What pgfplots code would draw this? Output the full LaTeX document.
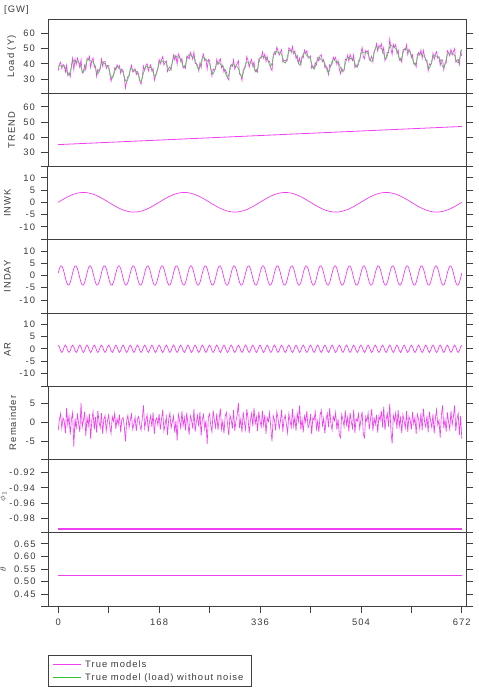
\documentclass[border=0pt]{standalone}
\usepackage{fontspec}
\setmainfont[LetterSpace=11]{Liberation Sans}
\usepackage{pgfplots}
\usepackage{pgfplotstable}
\pgfplotsset{compat=1.18}
\definecolor{txt}{HTML}{3C3C3C}
\definecolor{axc}{HTML}{404040}
\definecolor{mag}{HTML}{F040F0}
\definecolor{grn}{HTML}{50C850}
\definecolor{grnleg}{HTML}{30C030}
\newcommand\tf{\fontsize{9.4bp}{10.5bp}\selectfont}

\pgfplotstableread{
x tr wk dy ar rm
0 35.00 0 1.04 1.5 -2.1
2 35.04 0.30 2.83 0.75 0.8
4 35.07 0.60 3.86 -0.75 2.3
6 35.11 0.89 3.86 -1.5 -1.5
8 35.14 1.18 2.83 -0.75 1.2
10 35.18 1.46 1.04 0.75 0.4
12 35.21 1.74 -1.04 1.5 -2.8
14 35.25 2.00 -2.83 0.75 3.9
16 35.29 2.25 -3.86 -0.75 -0.6
18 35.32 2.49 -3.86 -1.5 1.7
20 35.36 2.72 -2.83 -0.75 -3.2
22 35.39 2.93 -1.04 0.75 0.9
24 35.43 3.13 1.04 1.5 2.6
26 35.46 3.30 2.83 0.75 -6.4
28 35.50 3.46 3.86 -0.75 1.1
30 35.54 3.60 3.86 -1.5 -1.8
32 35.57 3.72 2.83 -0.75 2.4
34 35.61 3.82 1.04 0.75 -0.3
36 35.64 3.90 -1.04 1.5 -2.5
38 35.68 3.96 -2.83 0.75 5.2
40 35.71 3.99 -3.86 -0.75 -1.2
42 35.75 4.00 -3.86 -1.5 0.6
44 35.79 3.99 -2.83 -0.75 2.9
46 35.82 3.96 -1.04 0.75 -3.6
48 35.86 3.90 1.04 1.5 1.4
50 35.89 3.82 2.83 0.75 -0.9
52 35.93 3.72 3.86 -0.75 2.2
54 35.96 3.60 3.86 -1.5 -4.3
56 36.00 3.46 2.83 -0.75 0.7
58 36.04 3.30 1.04 0.75 2.8
60 36.07 3.13 -1.04 1.5 -1.9
62 36.11 2.93 -2.83 0.75 1.5
64 36.14 2.72 -3.86 -0.75 -2.7
66 36.18 2.49 -3.86 -1.5 3.1
68 36.21 2.25 -2.83 -0.75 0.2
70 36.25 2.00 -1.04 0.75 -1.4
72 36.29 1.74 1.04 1.5 2.5
74 36.32 1.46 2.83 0.75 -3.0
76 36.36 1.18 3.86 -0.75 0.9
78 36.39 0.89 3.86 -1.5 1.8
80 36.43 0.60 2.83 -0.75 -2.2
82 36.46 0.30 1.04 0.75 0.4
84 36.50 0 -1.04 1.5 2.0
86 36.54 -0.30 -2.83 0.75 -1.1
88 36.57 -0.60 -3.86 -0.75 -2.9
90 36.61 -0.89 -3.86 -1.5 1.6
92 36.64 -1.18 -2.83 -0.75 0.3
94 36.68 -1.46 -1.04 0.75 2.4
96 36.71 -1.74 1.04 1.5 -1.7
98 36.75 -2.00 2.83 0.75 1.0
100 36.79 -2.25 3.86 -0.75 -0.5
102 36.82 -2.49 3.86 -1.5 2.1
104 36.86 -2.72 2.83 -0.75 -2.6
106 36.89 -2.93 1.04 0.75 0.8
108 36.93 -3.13 -1.04 1.5 1.3
110 36.96 -3.30 -2.83 0.75 -1.0
112 37.00 -3.46 -3.86 -0.75 -5.0
114 37.04 -3.60 -3.86 -1.5 0.5
116 37.07 -3.72 -2.83 -0.75 1.9
118 37.11 -3.82 -1.04 0.75 -1.3
120 37.14 -3.90 1.04 1.5 0.7
122 37.18 -3.96 2.83 0.75 2.2
124 37.21 -3.99 3.86 -0.75 -1.8
126 37.25 -4.00 3.86 -1.5 -0.4
128 37.29 -3.99 2.83 -0.75 1.4
130 37.32 -3.96 1.04 0.75 -2.3
132 37.36 -3.90 -1.04 1.5 0.9
134 37.39 -3.82 -2.83 0.75 1.6
136 37.43 -3.72 -3.86 -0.75 -0.8
138 37.46 -3.60 -3.86 -1.5 -2.0
140 37.50 -3.46 -2.83 -0.75 1.1
142 37.54 -3.30 -1.04 0.75 4.5
144 37.57 -3.13 1.04 1.5 -1.5
146 37.61 -2.93 2.83 0.75 0.6
148 37.64 -2.72 3.86 -0.75 2.0
150 37.68 -2.49 3.86 -1.5 -2.4
152 37.71 -2.25 2.83 -0.75 0.3
154 37.75 -2.00 1.04 0.75 1.8
156 37.79 -1.74 -1.04 1.5 -1.2
158 37.82 -1.46 -2.83 0.75 2.7
160 37.86 -1.18 -3.86 -0.75 -3.1
162 37.89 -0.89 -3.86 -1.5 0.5
164 37.93 -0.60 -2.83 -0.75 1.2
166 37.96 -0.30 -1.04 0.75 -0.7
168 38.00 0 1.04 1.5 2.3
170 38.04 0.30 2.83 0.75 -1.9
172 38.07 0.60 3.86 -0.75 0.8
174 38.11 0.89 3.86 -1.5 3.4
176 38.14 1.18 2.83 -0.75 -2.2
178 38.18 1.46 1.04 0.75 -0.6
180 38.21 1.74 -1.04 1.5 1.5
182 38.25 2.00 -2.83 0.75 -3.3
184 38.29 2.25 -3.86 -0.75 0.9
186 38.32 2.49 -3.86 -1.5 2.5
188 38.36 2.72 -2.83 -0.75 -1.4
190 38.39 2.93 -1.04 0.75 0.2
192 38.43 3.13 1.04 1.5 1.7
194 38.46 3.30 2.83 0.75 -2.7
196 38.50 3.46 3.86 -0.75 0.4
198 38.54 3.60 3.86 -1.5 -4.8
200 38.57 3.72 2.83 -0.75 2.2
202 38.61 3.82 1.04 0.75 0.6
204 38.64 3.90 -1.04 1.5 -1.5
206 38.68 3.96 -2.83 0.75 3.0
208 38.71 3.99 -3.86 -0.75 -0.9
210 38.75 4.00 -3.86 -1.5 1.3
212 38.79 3.99 -2.83 -0.75 -2.1
214 38.82 3.96 -1.04 0.75 2.6
216 38.86 3.90 1.04 1.5 -0.4
218 38.89 3.82 2.83 0.75 -3.2
220 38.93 3.72 3.86 -0.75 1.8
222 38.96 3.60 3.86 -1.5 0.7
224 39.00 3.46 2.83 -0.75 -1.6
226 39.04 3.30 1.04 0.75 3.6
228 39.07 3.13 -1.04 1.5 -2.4
230 39.11 2.93 -2.83 0.75 0.1
232 39.14 2.72 -3.86 -0.75 1.9
234 39.18 2.49 -3.86 -1.5 -1.1
236 39.21 2.25 -2.83 -0.75 2.8
238 39.25 2.00 -1.04 0.75 -3.5
240 39.29 1.74 1.04 1.5 0.9
242 39.32 1.46 2.83 0.75 2.1
244 39.36 1.18 3.86 -0.75 -1.7
246 39.39 0.89 3.86 -1.5 0.5
248 39.43 0.60 2.83 -0.75 -5.7
250 39.46 0.30 1.04 0.75 1.4
252 39.50 0 -1.04 1.5 2.3
254 39.54 -0.30 -2.83 0.75 -0.8
256 39.57 -0.60 -3.86 -0.75 -2.5
258 39.61 -0.89 -3.86 -1.5 3.2
260 39.64 -1.18 -2.83 -0.75 0.6
262 39.68 -1.46 -1.04 0.75 -1.3
264 39.71 -1.74 1.04 1.5 2.4
266 39.75 -2.00 2.83 0.75 -2.0
268 39.79 -2.25 3.86 -0.75 1.0
270 39.82 -2.49 3.86 -1.5 3.7
272 39.86 -2.72 2.83 -0.75 -1.8
274 39.89 -2.93 1.04 0.75 0.3
276 39.93 -3.13 -1.04 1.5 -2.9
278 39.96 -3.30 -2.83 0.75 1.6
280 40.00 -3.46 -3.86 -0.75 2.7
282 40.04 -3.60 -3.86 -1.5 -0.5
284 40.07 -3.72 -2.83 -0.75 -3.4
286 40.11 -3.82 -1.04 0.75 1.9
288 40.14 -3.90 1.04 1.5 0.8
290 40.18 -3.96 2.83 0.75 -1.6
292 40.21 -3.99 3.86 -0.75 3.3
294 40.25 -4.00 3.86 -1.5 -2.2
296 40.29 -3.99 2.83 -0.75 0.5
298 40.32 -3.96 1.04 0.75 2.0
300 40.36 -3.90 -1.04 1.5 5.2
302 40.39 -3.82 -2.83 0.75 -1.4
304 40.43 -3.72 -3.86 -0.75 0.9
306 40.46 -3.60 -3.86 -1.5 -2.6
308 40.50 -3.46 -2.83 -0.75 2.8
310 40.54 -3.30 -1.04 0.75 0.1
312 40.57 -3.13 1.04 1.5 -1.9
314 40.61 -2.93 2.83 0.75 3.5
316 40.64 -2.72 3.86 -0.75 1.2
318 40.68 -2.49 3.86 -1.5 -2.8
320 40.71 -2.25 2.83 -0.75 0.6
322 40.75 -2.00 1.04 0.75 2.4
324 40.79 -1.74 -1.04 1.5 -1.0
326 40.82 -1.46 -2.83 0.75 3.9
328 40.86 -1.18 -3.86 -0.75 -0.3
330 40.89 -0.89 -3.86 -1.5 1.5
332 40.93 -0.60 -2.83 -0.75 -2.3
334 40.96 -0.30 -1.04 0.75 2.9
336 41.00 0 1.04 1.5 0.4
338 41.04 0.30 2.83 0.75 -1.2
340 41.07 0.60 3.86 -0.75 3.1
342 41.11 0.89 3.86 -1.5 -0.7
344 41.14 1.18 2.83 -0.75 2.0
346 41.18 1.46 1.04 0.75 -3.0
348 41.21 1.74 -1.04 1.5 1.3
350 41.25 2.00 -2.83 0.75 0.2
352 41.29 2.25 -3.86 -0.75 2.6
354 41.32 2.49 -3.86 -1.5 -1.5
356 41.36 2.72 -2.83 -0.75 -5.0
358 41.39 2.93 -1.04 0.75 1.8
360 41.43 3.13 1.04 1.5 0.7
362 41.46 3.30 2.83 0.75 -2.1
364 41.50 3.46 3.86 -0.75 2.9
366 41.54 3.60 3.86 -1.5 1.1
368 41.57 3.72 2.83 -0.75 -1.6
370 41.61 3.82 1.04 0.75 0.4
372 41.64 3.90 -1.04 1.5 3.4
374 41.68 3.96 -2.83 0.75 -2.4
376 41.71 3.99 -3.86 -0.75 0.8
378 41.75 4.00 -3.86 -1.5 1.9
380 41.79 3.99 -2.83 -0.75 -0.6
382 41.82 3.96 -1.04 0.75 -2.8
384 41.86 3.90 1.04 1.5 2.3
386 41.89 3.82 2.83 0.75 0.5
388 41.93 3.72 3.86 -0.75 -1.3
390 41.96 3.60 3.86 -1.5 3.6
392 42.00 3.46 2.83 -0.75 -0.9
394 42.04 3.30 1.04 0.75 1.4
396 42.07 3.13 -1.04 1.5 -2.2
398 42.11 2.93 -2.83 0.75 2.5
400 42.14 2.72 -3.86 -0.75 0.3
402 42.18 2.49 -3.86 -1.5 4.5
404 42.21 2.25 -2.83 -0.75 -1.8
406 42.25 2.00 -1.04 0.75 0.9
408 42.29 1.74 1.04 1.5 -2.6
410 42.32 1.46 2.83 0.75 1.7
412 42.36 1.18 3.86 -0.75 0.2
414 42.39 0.89 3.86 -1.5 3.0
416 42.43 0.60 2.83 -0.75 -1.4
418 42.46 0.30 1.04 0.75 -0.5
420 42.50 0 -1.04 1.5 2.2
422 42.54 -0.30 -2.83 0.75 -3.1
424 42.57 -0.60 -3.86 -0.75 1.3
426 42.61 -0.89 -3.86 -1.5 0.6
428 42.64 -1.18 -2.83 -0.75 2.8
430 42.68 -1.46 -1.04 0.75 -1.7
432 42.71 -1.74 1.04 1.5 0.4
434 42.75 -2.00 2.83 0.75 -2.5
436 42.79 -2.25 3.86 -0.75 1.9
438 42.82 -2.49 3.86 -1.5 3.3
440 42.86 -2.72 2.83 -0.75 -0.8
442 42.89 -2.93 1.04 0.75 1.1
444 42.93 -3.13 -1.04 1.5 -2.9
446 42.96 -3.30 -2.83 0.75 0.7
448 43.00 -3.46 -3.86 -0.75 2.4
450 43.04 -3.60 -3.86 -1.5 -1.2
452 43.07 -3.72 -2.83 -0.75 3.8
454 43.11 -3.82 -1.04 0.75 -0.3
456 43.14 -3.90 1.04 1.5 -2.0
458 43.18 -3.96 2.83 0.75 1.6
460 43.21 -3.99 3.86 -0.75 0.5
462 43.25 -4.00 3.86 -1.5 2.7
464 43.29 -3.99 2.83 -0.75 -1.9
466 43.32 -3.96 1.04 0.75 0.9
468 43.36 -3.90 -1.04 1.5 -3.3
470 43.39 -3.82 -2.83 0.75 -4.0
472 43.43 -3.72 -3.86 -0.75 2.1
474 43.46 -3.60 -3.86 -1.5 0.8
476 43.50 -3.46 -2.83 -0.75 -1.1
478 43.54 -3.30 -1.04 0.75 3.2
480 43.57 -3.13 1.04 1.5 -0.6
482 43.61 -2.93 2.83 0.75 1.4
484 43.64 -2.72 3.86 -0.75 -2.4
486 43.68 -2.49 3.86 -1.5 2.6
488 43.71 -2.25 2.83 -0.75 0.2
490 43.75 -2.00 1.04 0.75 -1.5
492 43.79 -1.74 -1.04 1.5 3.4
494 43.82 -1.46 -2.83 0.75 -2.8
496 43.86 -1.18 -3.86 -0.75 1.0
498 43.89 -0.89 -3.86 -1.5 0.4
500 43.93 -0.60 -2.83 -0.75 2.3
502 43.96 -0.30 -1.04 0.75 -1.6
504 44.00 0 1.04 1.5 0.7
506 44.04 0.30 2.83 0.75 2.9
508 44.07 0.60 3.86 -0.75 -3.2
510 44.11 0.89 3.86 -1.5 -4.0
512 44.14 1.18 2.83 -0.75 1.5
514 44.18 1.46 1.04 0.75 0.3
516 44.21 1.74 -1.04 1.5 2.5
518 44.25 2.00 -2.83 0.75 -1.8
520 44.29 2.25 -3.86 -0.75 0.9
522 44.32 2.49 -3.86 -1.5 3.6
524 44.36 2.72 -2.83 -0.75 -2.2
526 44.39 2.93 -1.04 0.75 1.2
528 44.43 3.13 1.04 1.5 -0.5
530 44.46 3.30 2.83 0.75 2.0
532 44.50 3.46 3.86 -0.75 -2.7
534 44.54 3.60 3.86 -1.5 1.7
536 44.57 3.72 2.83 -0.75 0.6
538 44.61 3.82 1.04 0.75 3.1
540 44.64 3.90 -1.04 1.5 -1.3
542 44.68 3.96 -2.83 0.75 4.2
544 44.71 3.99 -3.86 -0.75 -2.0
546 44.75 4.00 -3.86 -1.5 0.8
548 44.79 3.99 -2.83 -0.75 2.4
550 44.82 3.96 -1.04 0.75 -1.1
552 44.86 3.90 1.04 1.5 5.0
554 44.89 3.82 2.83 0.75 -2.3
556 44.93 3.72 3.86 -0.75 -5.6
558 44.96 3.60 3.86 -1.5 1.9
560 45.00 3.46 2.83 -0.75 0.4
562 45.04 3.30 1.04 0.75 2.6
564 45.07 3.13 -1.04 1.5 -1.7
566 45.11 2.93 -2.83 0.75 3.3
568 45.14 2.72 -3.86 -0.75 -0.9
570 45.18 2.49 -3.86 -1.5 1.2
572 45.21 2.25 -2.83 -0.75 -2.8
574 45.25 2.00 -1.04 0.75 2.1
576 45.29 1.74 1.04 1.5 0.3
578 45.32 1.46 2.83 0.75 -1.4
580 45.36 1.18 3.86 -0.75 3.0
582 45.39 0.89 3.86 -1.5 -2.5
584 45.43 0.60 2.83 -0.75 1.6
586 45.46 0.30 1.04 0.75 0.7
588 45.50 0 -1.04 1.5 -1.9
590 45.54 -0.30 -2.83 0.75 2.8
592 45.57 -0.60 -3.86 -0.75 -0.4
594 45.61 -0.89 -3.86 -1.5 1.3
596 45.64 -1.18 -2.83 -0.75 -3.0
598 45.68 -1.46 -1.04 0.75 2.2
600 45.71 -1.74 1.04 1.5 0.9
602 45.75 -2.00 2.83 0.75 -1.6
604 45.79 -2.25 3.86 -0.75 2.5
606 45.82 -2.49 3.86 -1.5 -2.1
608 45.86 -2.72 2.83 -0.75 3.7
610 45.89 -2.93 1.04 0.75 0.2
612 45.93 -3.13 -1.04 1.5 -1.2
614 45.96 -3.30 -2.83 0.75 1.8
616 46.00 -3.46 -3.86 -0.75 -2.6
618 46.04 -3.60 -3.86 -1.5 2.9
620 46.07 -3.72 -2.83 -0.75 0.5
622 46.11 -3.82 -1.04 0.75 -1.3
624 46.14 -3.90 1.04 1.5 2.2
626 46.18 -3.96 2.83 0.75 -2.9
628 46.21 -3.99 3.86 -0.75 1.1
630 46.25 -4.00 3.86 -1.5 3.4
632 46.29 -3.99 2.83 -0.75 -0.7
634 46.32 -3.96 1.04 0.75 0.6
636 46.36 -3.90 -1.04 1.5 -4.0
638 46.39 -3.82 -2.83 0.75 2.0
640 46.43 -3.72 -3.86 -0.75 4.5
642 46.46 -3.60 -3.86 -1.5 -1.5
644 46.50 -3.46 -2.83 -0.75 0.8
646 46.54 -3.30 -1.04 0.75 -2.4
648 46.57 -3.13 1.04 1.5 2.7
650 46.61 -2.93 2.83 0.75 0.1
652 46.64 -2.72 3.86 -0.75 -1.8
654 46.68 -2.49 3.86 -1.5 3.1
656 46.71 -2.25 2.83 -0.75 -0.6
658 46.75 -2.00 1.04 0.75 1.5
660 46.79 -1.74 -1.04 1.5 4.5
662 46.82 -1.46 -2.83 0.75 -2.2
664 46.86 -1.18 -3.86 -0.75 0.9
666 46.89 -0.89 -3.86 -1.5 2.4
668 46.93 -0.60 -2.83 -0.75 -3.3
670 46.96 -0.30 -1.04 0.75 1.7
672 47.00 0 1.04 1.5 -4.3
}\data

\pgfplotstableread{
x y
0 -0.9945
336 -0.9945
672 -0.9945
}\phidata

\pgfplotstableread{
x y
0 0.524
336 0.524
672 0.524
}\thetadata

\pgfplotsset{
  panel/.style={
    scale only axis, width=418bp, height=73.25bp,
    xmin=-17, xmax=679, xtick=\empty,
    axis line style={draw=axc, line width=1bp},
    tick style={draw=axc, line width=0.7bp},
    tick align=outside, major tick length=7bp,
    yticklabel style={font=\tf, text=txt, xshift=-2.5bp},
    xticklabel style={font=\tf, text=txt},
    ylabel style={font=\tf, text=txt, anchor=center},
    /pgf/number format/assume math mode=true,
    scaled y ticks=false,
    extra y tick labels={},
  },
}

\begin{document}
\begin{tikzpicture}
\useasboundingbox (0bp,0bp) rectangle (479bp,-691bp);
\node[anchor=west, font=\tf, text=txt, inner sep=0pt] at (4bp,-10bp) {[GW]};

% Panel 1: Load
\begin{axis}[panel, at={(48bp,-20bp)}, anchor=north west,
  ymin=20.5, ymax=69, ytick={30,40,50,60}, extra y ticks={20.5},
  ylabel={Load (Y)}, ylabel style={at={(axis description cs:-0.0868,0.5)}},
  stack plots=y]
  \addplot[draw=none] table[x=x,y=tr]{\data};
  \addplot[draw=none] table[x=x,y=wk]{\data};
  \addplot[draw=none] table[x=x,y=dy]{\data};
  \addplot[draw=none] table[x=x,y=ar]{\data};
  \addplot[draw=mag, line width=0.65bp] table[x=x,y=rm]{\data};
\end{axis}
\begin{axis}[panel, at={(48bp,-20bp)}, anchor=north west,
  ymin=20.5, ymax=69, hide axis, stack plots=y]
  \addplot[draw=none] table[x=x,y=tr]{\data};
  \addplot[draw=none] table[x=x,y=wk]{\data};
  \addplot[draw=none] table[x=x,y=dy]{\data};
  \addplot[draw=grn, line width=0.65bp] table[x=x,y=ar]{\data};
\end{axis}

% Panel 2: TREND
\begin{axis}[panel, at={(48bp,-93.25bp)}, anchor=north west,
  ymin=20.5, ymax=69, ytick={30,40,50,60}, extra y ticks={20.5},
  ylabel={TREND}, ylabel style={at={(axis description cs:-0.0868,0.5)}}]
  \addplot[draw=mag, line width=0.8bp] table[x=x,y=tr]{\data};
\end{axis}

% Panel 3: INWK
\begin{axis}[panel, at={(48bp,-166.5bp)}, anchor=north west,
  ymin=-15.3, ymax=14.6, ytick={-10,-5,0,5,10}, extra y ticks={-15.3},
  ylabel={INWK}, ylabel style={at={(axis description cs:-0.0974,0.5)}}]
  \addplot[draw=mag, line width=0.7bp] table[x=x,y=wk]{\data};
\end{axis}

% Panel 4: INDAY
\begin{axis}[panel, at={(48bp,-239.75bp)}, anchor=north west,
  ymin=-15.3, ymax=14.6, ytick={-10,-5,0,5,10}, extra y ticks={-15.3},
  ylabel={INDAY}, ylabel style={at={(axis description cs:-0.0974,0.5)}}]
  \addplot[draw=mag, line width=0.7bp] table[x=x,y=dy]{\data};
\end{axis}

% Panel 5: AR
\begin{axis}[panel, at={(48bp,-313bp)}, anchor=north west,
  ymin=-15.3, ymax=14.6, ytick={-10,-5,0,5,10}, extra y ticks={-15.3},
  ylabel={AR}, ylabel style={at={(axis description cs:-0.0974,0.5)}}]
  \addplot[draw=mag, line width=0.7bp] table[x=x,y=ar]{\data};
\end{axis}

% Panel 6: Remainder
\begin{axis}[panel, at={(48bp,-386.25bp)}, anchor=north west,
  ymin=-9.8, ymax=9.6, ytick={-5,0,5}, extra y ticks={-9.8},
  ylabel={Remainder}, ylabel style={at={(axis description cs:-0.0844,0.5)}}]
  \addplot[draw=mag, line width=0.65bp] table[x=x,y=rm]{\data};
\end{axis}

% Panel 7: phi
\begin{axis}[panel, at={(48bp,-459.5bp)}, anchor=north west,
  ymin=-0.9995, ymax=-0.9025, ytick={-0.98,-0.96,-0.94,-0.92},
  yticklabels={-0.98,-0.96,-0.94,-0.92}, extra y ticks={-0.9995},
  ylabel={$\phi_1$}, ylabel style={at={(axis description cs:-0.1077,0.5)}}]
  \addplot[draw=mag, line width=1.2bp] table[x=x,y=y]{\phidata};
\end{axis}

% Panel 8: theta (frame, y ticks, x ticks)
\begin{axis}[panel, at={(48bp,-532.75bp)}, anchor=north west,
  ymin=0.402, ymax=0.694, ytick={0.45,0.50,0.55,0.60,0.65},
  yticklabels={0.45,0.50,0.55,0.60,0.65}, extra y ticks={0.402},
  ylabel={$\theta$}, ylabel style={at={(axis description cs:-0.1077,0.5)}},
  major tick length=6.5bp,
  xtick={0,84,168,252,336,420,504,588,672},
  xticklabels={0,,168,,336,,504,,672},
  xtick pos=left,
  xticklabel style={yshift=-3bp}]
\end{axis}
% Panel 8: theta line, drawn in an overlay axis with the same limits
\begin{axis}[panel, at={(48bp,-532.75bp)}, anchor=north west,
  ymin=0.402, ymax=0.694, hide axis]
  \addplot[draw={rgb,255:red,240;green,64;blue,240}, line width=1.2bp] table[x=x,y=y]{\thetadata};
\end{axis}

% Legend
\begin{axis}[at={(48bp,-532.75bp)}, anchor=north west, scale only axis,
  width=418bp, height=73.25bp, hide axis, xmin=0, xmax=1, ymin=0, ymax=1,
  legend style={at={(0,-0.669)}, anchor=north west, draw=axc, line width=0.8bp,
    fill=white, font=\tf, text=txt, inner xsep=4bp, inner ysep=3.5bp,
    row sep=1.5bp, nodes={inner xsep=3.5bp, inner ysep=1.5bp}, cells={anchor=west}},
  legend image code/.code={\draw[#1] (0bp,0bp) -- (14bp,0bp) -- (28bp,0bp);}]
  \addlegendimage{draw=mag, line width=1.2bp}
  \addlegendentry{True models}
  \addlegendimage{draw=grnleg, line width=1.3bp}
  \addlegendentry{True model (load) without noise}
\end{axis}
\end{tikzpicture}
\end{document}
